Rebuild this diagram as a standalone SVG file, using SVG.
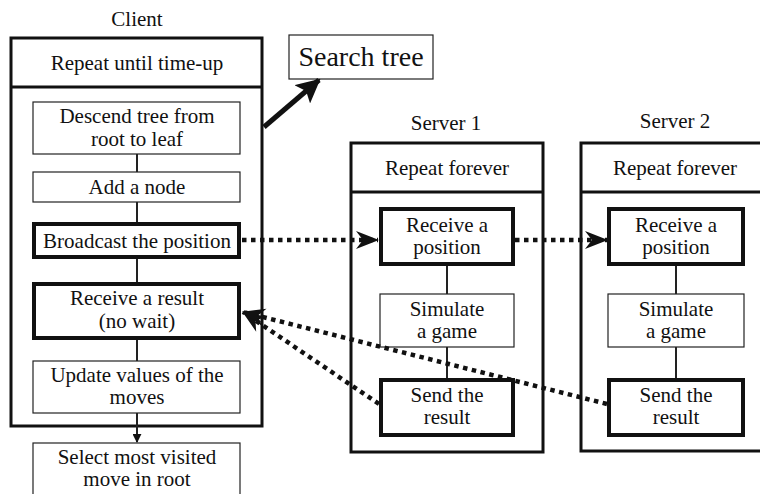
<svg xmlns="http://www.w3.org/2000/svg" width="760" height="494" viewBox="0 0 760 494" font-family="serif">
<defs>
<marker id="barb" viewBox="0 0 24 20" refX="23" refY="10" markerWidth="24" markerHeight="20" markerUnits="userSpaceOnUse" orient="auto">
<path d="M24,10 L1,1 L8,10 L1,19 Z" fill="#111"/>
</marker>
<marker id="fat" viewBox="0 0 24 24" refX="22" refY="12" markerWidth="24" markerHeight="24" markerUnits="userSpaceOnUse" orient="auto">
<path d="M24,12 L0,0 L5,12 L0,24 Z" fill="#111"/>
</marker>
<marker id="small" viewBox="0 0 10 10" refX="9" refY="5" markerWidth="9" markerHeight="9" markerUnits="userSpaceOnUse" orient="auto">
<path d="M10,5 L0,0 L0,10 Z" fill="#111"/>
</marker>
</defs>
<g font-family="Times New Roman" font-size="21" text-anchor="middle" fill="#111">
<g id="client">
<text x="137" y="26" font-family="Times New Roman">Client</text>
<rect x="11" y="38" width="251" height="388" fill="none" stroke="#111" stroke-width="3"/>
<line x1="11" y1="87" x2="262" y2="87" stroke="#111" stroke-width="3"/>
<text x="137" y="70" font-family="Times New Roman">Repeat until time-up</text>
</g>
<g id="descend"><rect x="33" y="102" width="207" height="52" fill="#fff" stroke="#222" stroke-width="1.2"/><text x="137" y="123" font-family="Times New Roman">Descend tree from</text><text x="137" y="146" font-family="Times New Roman">root to leaf</text></g>
<g id="addnode"><rect x="33" y="172" width="207" height="30" fill="#fff" stroke="#222" stroke-width="1.2"/><text x="137" y="194" font-family="Times New Roman">Add a node</text></g>
<g id="broadcast"><rect x="34" y="224" width="205" height="33" fill="#fff" stroke="#111" stroke-width="4"/><text x="137" y="248" font-family="Times New Roman">Broadcast the position</text></g>
<g id="receiveresult"><rect x="34" y="284" width="205" height="54" fill="#fff" stroke="#111" stroke-width="4"/><text x="137" y="305" font-family="Times New Roman">Receive a result</text><text x="137" y="328" font-family="Times New Roman">(no wait)</text></g>
<g id="update"><rect x="33" y="361" width="207" height="52" fill="#fff" stroke="#222" stroke-width="1.2"/><text x="137" y="382" font-family="Times New Roman">Update values of the</text><text x="137" y="404" font-family="Times New Roman">moves</text></g>
<g id="select"><rect x="33" y="443" width="207" height="60" fill="#fff" stroke="#222" stroke-width="1.2"/><text x="137" y="464" font-family="Times New Roman">Select most visited</text><text x="137" y="486" font-family="Times New Roman">move in root</text></g>
<g id="searchtree"><rect x="289" y="35" width="144" height="44" fill="#fff" stroke="#222" stroke-width="1.2"/><text x="361" y="66" font-size="28" font-family="Times New Roman">Search tree</text></g>

<g id="server1">
<text x="446" y="130" font-family="Times New Roman">Server 1</text>
<rect x="351" y="143" width="192" height="309" fill="none" stroke="#111" stroke-width="3"/>
<line x1="351" y1="192" x2="543" y2="192" stroke="#111" stroke-width="3"/>
<text x="447" y="175" font-family="Times New Roman">Repeat forever</text>
</g>
<g id="s1receive"><rect x="381" y="209" width="132" height="55" fill="#fff" stroke="#111" stroke-width="4"/><text x="447" y="232" font-family="Times New Roman">Receive a</text><text x="447" y="254" font-family="Times New Roman">position</text></g>
<g id="s1simulate"><rect x="380" y="294" width="134" height="53" fill="#fff" stroke="#222" stroke-width="1.2"/><text x="447" y="316" font-family="Times New Roman">Simulate</text><text x="447" y="338" font-family="Times New Roman">a game</text></g>
<g id="s1send"><rect x="381" y="380" width="132" height="55" fill="#fff" stroke="#111" stroke-width="4"/><text x="447" y="402" font-family="Times New Roman">Send the</text><text x="447" y="424" font-family="Times New Roman">result</text></g>

<g id="server2">
<text x="675" y="128" font-family="Times New Roman">Server 2</text>
<path d="M770,143 H581 V451 H770" fill="none" stroke="#111" stroke-width="3"/>
<line x1="581" y1="192" x2="770" y2="192" stroke="#111" stroke-width="3"/>
<text x="675" y="175" font-family="Times New Roman">Repeat forever</text>
</g>
<g id="s2receive"><rect x="609" y="209" width="134" height="55" fill="#fff" stroke="#111" stroke-width="4"/><text x="676" y="232" font-family="Times New Roman">Receive a</text><text x="676" y="254" font-family="Times New Roman">position</text></g>
<g id="s2simulate"><rect x="608" y="294" width="136" height="53" fill="#fff" stroke="#222" stroke-width="1.2"/><text x="676" y="316" font-family="Times New Roman">Simulate</text><text x="676" y="338" font-family="Times New Roman">a game</text></g>
<g id="s2send"><rect x="609" y="380" width="134" height="55" fill="#fff" stroke="#111" stroke-width="4"/><text x="676" y="402" font-family="Times New Roman">Send the</text><text x="676" y="424" font-family="Times New Roman">result</text></g>
</g>

<g id="connectors">
<g stroke="#222" stroke-width="2" fill="none">
<line x1="137" y1="154" x2="137" y2="172"/>
<line x1="137" y1="202" x2="137" y2="222"/>
<line x1="137" y1="259" x2="137" y2="282"/>
<line x1="137" y1="340" x2="137" y2="361"/>
<line x1="137" y1="413" x2="137" y2="442" marker-end="url(#small)"/>
<line x1="447" y1="266" x2="447" y2="294"/>
<line x1="447" y1="347" x2="447" y2="378"/>
<line x1="676" y1="266" x2="676" y2="294"/>
<line x1="676" y1="347" x2="676" y2="378"/>
</g>
<line x1="264" y1="127" x2="319" y2="80" stroke="#111" stroke-width="5" marker-end="url(#fat)"/>
<g stroke="#111" stroke-width="4.5" stroke-dasharray="4.5 4.5" fill="none">
<line x1="242" y1="240" x2="378" y2="240" marker-end="url(#barb)"/>
<line x1="515" y1="240" x2="607" y2="240" marker-end="url(#barb)"/>
<line x1="379" y1="404" x2="243" y2="312" marker-end="url(#barb)"/>
<line x1="607" y1="404" x2="243" y2="312" marker-end="url(#barb)"/>
</g>
</g>
</svg>
